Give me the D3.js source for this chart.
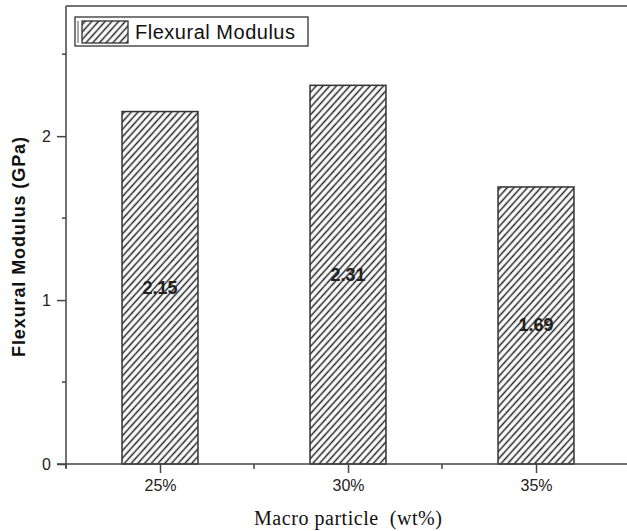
<!DOCTYPE html>
<meta charset="utf-8">
<script src="https://d3js.org/d3.v7.min.js"></script>
<style>
  body { margin: 0; background: #fff; }
  svg { display: block; }
</style>
<div id="body"></div>
<script>
// data
var categories = ["25%", "30%", "35%"];
var modulus = [2.15, 2.31, 1.69];
var yTicks = [0, 1, 2];
var yMinorTicks = [0.5, 1.5, 2.5];
var yMax = 2.8;

var W = 627, H = 531;
var plotLeft = 66, plotTop = 5, plotRight = 630, plotBottom = 464;

var svg = d3.select("#body").append("svg")
    .attr("width", W)
    .attr("height", H);

// hatch pattern
var defs = svg.append("defs");
defs.append("pattern")
    .attr("id", "hatch")
    .attr("patternUnits", "userSpaceOnUse")
    .attr("width", 5)
    .attr("height", 10)
    .attr("patternTransform", "rotate(42)")
  .append("line")
    .attr("x1", 2.5).attr("y1", 0)
    .attr("x2", 2.5).attr("y2", 10)
    .attr("stroke", "#222")
    .attr("stroke-width", 1.5);

// scales
var x = d3.scalePoint()
    .domain(categories)
    .range([plotLeft, plotRight])
    .padding(0.5);
var step = x.step();
var barW = step * 0.404;

var y = d3.scaleLinear()
    .domain([0, yMax])
    .range([plotBottom, plotTop]);

// bars
svg.selectAll("rect.bar")
  .data(modulus)
  .enter()
  .append("rect")
    .attr("class", "bar")
    .attr("x", function(d, i) { return x(categories[i]) - barW / 2; })
    .attr("y", function(d) { return y(d); })
    .attr("width", barW)
    .attr("height", function(d) { return y(0) - y(d); })
    .attr("fill", "url(#hatch)")
    .attr("stroke", "#333")
    .attr("stroke-width", 1.5);

// value labels in the middle of each bar
svg.selectAll("text.val")
  .data(modulus)
  .enter()
  .append("text")
    .attr("class", "val")
    .attr("x", function(d, i) { return x(categories[i]); })
    .attr("y", function(d) { return (y(d) + y(0)) / 2 + 6; })
    .attr("text-anchor", "middle")
    .style("font-family", "Liberation Sans, Arial, sans-serif")
    .style("font-size", "18px")
    .style("font-weight", "bold")
    .style("fill", "#222")
    .text(function(d) { return d3.format(".2f")(d); });

// frame: top line
svg.append("line")
    .attr("x1", plotLeft).attr("y1", plotTop + 1)
    .attr("x2", plotRight).attr("y2", plotTop + 1)
    .attr("stroke", "#444").attr("stroke-width", 1.5);

// y axis
var yAxis = svg.append("g")
    .attr("transform", "translate(" + plotLeft + ",0)")
    .call(d3.axisLeft(y).tickValues(yTicks).tickSize(9).tickPadding(6).tickFormat(d3.format("d")));
yAxis.select(".domain").remove();
yAxis.append("line")
    .attr("x1", 0).attr("y1", plotTop + 1)
    .attr("x2", 0).attr("y2", plotBottom + 4)
    .attr("stroke", "#444").attr("stroke-width", 1.5);
yAxis.selectAll(".tick line").attr("stroke", "#444").attr("stroke-width", 1.5);
yAxis.selectAll("text")
    .style("font-family", "Liberation Sans, Arial, sans-serif")
    .style("font-size", "16px")
    .style("fill", "#222");
yAxis.selectAll("line.minor")
  .data(yMinorTicks)
  .enter()
  .append("line")
    .attr("class", "minor")
    .attr("x1", -4).attr("x2", 0)
    .attr("y1", function(d) { return y(d); })
    .attr("y2", function(d) { return y(d); })
    .attr("stroke", "#444").attr("stroke-width", 1.5);

// x axis
var xAxis = svg.append("g")
    .attr("transform", "translate(0," + plotBottom + ")")
    .call(d3.axisBottom(x).tickSize(9).tickPadding(7));
xAxis.select(".domain").remove();
xAxis.append("line")
    .attr("x1", plotLeft - 9).attr("y1", 0)
    .attr("x2", plotRight).attr("y2", 0)
    .attr("stroke", "#444").attr("stroke-width", 1.5);
xAxis.selectAll(".tick line").attr("stroke", "#444").attr("stroke-width", 1.5);
xAxis.selectAll("text")
    .style("font-family", "Liberation Sans, Arial, sans-serif")
    .style("font-size", "16px")
    .style("fill", "#222");
var xMinor = [x(categories[0]) - step / 2].concat(categories.map(function(c) { return x(c) + step / 2; }));
xAxis.selectAll("line.minor")
  .data(xMinor)
  .enter()
  .append("line")
    .attr("class", "minor")
    .attr("x1", function(d) { return d; })
    .attr("x2", function(d) { return d; })
    .attr("y1", 0).attr("y2", 5)
    .attr("stroke", "#444").attr("stroke-width", 1.5);

// axis titles
svg.append("text")
    .attr("x", x(categories[1]))
    .attr("y", 525)
    .attr("text-anchor", "middle")
    .attr("textLength", 188)
    .style("font-family", "Liberation Serif, Times New Roman, serif")
    .style("font-size", "20px")
    .style("fill", "#111")
    .attr("xml:space", "preserve")
    .text("Macro particle  (wt%)");

svg.append("text")
    .attr("transform", "translate(25,247) rotate(-90)")
    .attr("text-anchor", "middle")
    .attr("textLength", 220)
    .style("font-family", "Liberation Sans, Arial, sans-serif")
    .style("font-size", "18px")
    .style("font-weight", "bold")
    .style("fill", "#111")
    .text("Flexural Modulus (GPa)");

// legend
var legend = svg.append("g");
legend.append("rect")
    .attr("x", 75).attr("y", 17)
    .attr("width", 233).attr("height", 29)
    .attr("fill", "#fff")
    .attr("stroke", "#333").attr("stroke-width", 1.3);
legend.append("line")
    .attr("x1", 78).attr("y1", 21)
    .attr("x2", 78).attr("y2", 43)
    .attr("stroke", "#555").attr("stroke-width", 1);
legend.append("rect")
    .attr("x", 82).attr("y", 21)
    .attr("width", 46).attr("height", 22)
    .attr("fill", "url(#hatch)")
    .attr("stroke", "#333").attr("stroke-width", 1.3);
legend.append("text")
    .attr("x", 135).attr("y", 38.5)
    .attr("textLength", 160)
    .style("font-family", "Liberation Sans, Arial, sans-serif")
    .style("font-size", "20px")
    .style("fill", "#111")
    .text("Flexural Modulus");
</script>
